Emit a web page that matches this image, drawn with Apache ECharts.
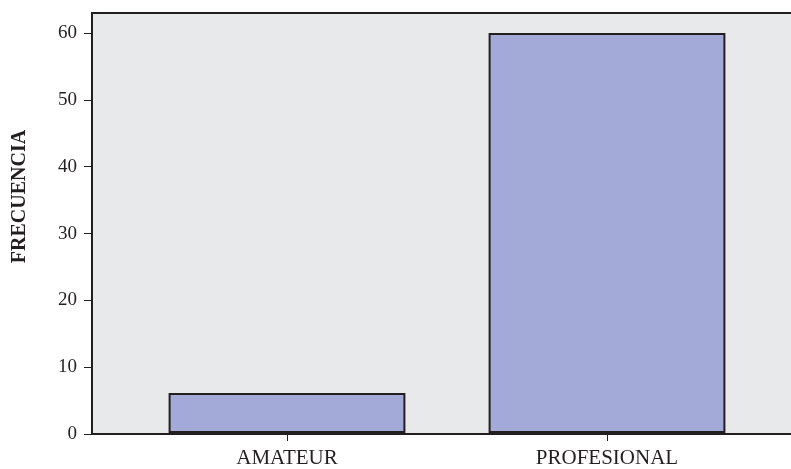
<!DOCTYPE html>
<html>
<head>
<meta charset="utf-8">
<style>
  html, body { margin: 0; padding: 0; background: #fff; }
  #chart { width: 791px; height: 469px; }
</style>
<script src="https://cdn.jsdelivr.net/npm/echarts@6/dist/echarts.min.js"></script>
</head>
<body>
<div id="chart"></div>
<script>
const categories = ['AMATEUR', 'PROFESIONAL']
const frecuencia = [6, 60]
const yMin = 0
const yMax = 63
const yInterval = 10

const ink = '#231f20'
const serif = '"Liberation Serif", "DejaVu Serif", serif'

const chart = echarts.init(document.getElementById('chart'))

chart.setOption({
  animation: false,
  grid: [
    // frame / background
    { left: 92, right: 0, top: 13, bottom: 35, show: true, backgroundColor: '#e8e9eb', borderWidth: 0 },
    // bars
    { left: 127, right: 24, top: 13, bottom: 35 }
  ],
  xAxis: [
    {
      gridIndex: 0, type: 'value', position: 'bottom', min: 0, max: 1,
      axisLine: { show: true, lineStyle: { color: ink, width: 2 } },
      axisTick: { show: false }, axisLabel: { show: false }, splitLine: { show: false }
    },
    {
      gridIndex: 0, type: 'value', position: 'top', min: 0, max: 1,
      axisLine: { show: true, lineStyle: { color: ink, width: 2 } },
      axisTick: { show: false }, axisLabel: { show: false }, splitLine: { show: false }
    },
    {
      gridIndex: 1, type: 'category', data: categories,
      axisLine: { show: false },
      axisTick: { show: true, alignWithLabel: true, length: 8, lineStyle: { color: ink, width: 1 } },
      axisLabel: { color: ink, fontFamily: serif, fontSize: 21, margin: 15 }
    }
  ],
  yAxis: [
    {
      gridIndex: 0, type: 'value', min: yMin, max: yMax, interval: yInterval,
      name: 'FRECUENCIA', nameLocation: 'middle', nameGap: 62,
      nameTextStyle: { color: ink, fontFamily: serif, fontSize: 20, fontWeight: 'bold', padding: [0, 0, 0, 54] },
      axisLine: { show: true, lineStyle: { color: ink, width: 2 } },
      axisTick: { show: true, length: 8, lineStyle: { color: ink, width: 1 } },
      axisLabel: { color: ink, fontFamily: serif, fontSize: 19, margin: 15, showMaxLabel: false },
      splitLine: { show: false }
    },
    {
      gridIndex: 1, type: 'value', min: yMin, max: yMax, show: false
    }
  ],
  series: [{
    type: 'bar',
    xAxisIndex: 2,
    yAxisIndex: 1,
    data: frecuencia,
    barWidth: '74%',
    itemStyle: { color: '#a4aad7', borderColor: ink, borderWidth: 2 }
  }]
})
</script>
</body>
</html>
